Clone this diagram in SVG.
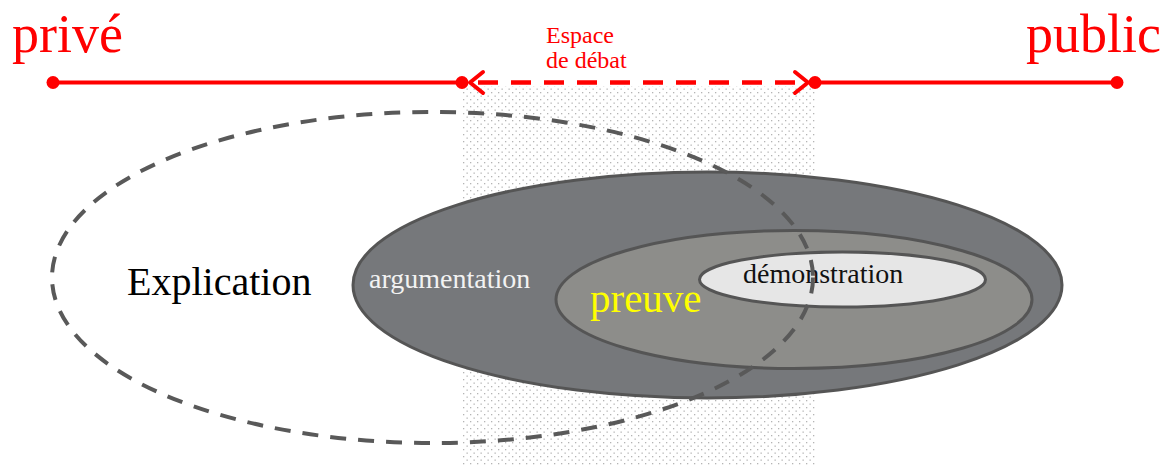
<svg xmlns="http://www.w3.org/2000/svg" width="1168" height="466" viewBox="0 0 1168 466">
<defs>
<pattern id="dots" x="0" y="0" width="7" height="7" patternUnits="userSpaceOnUse">
<rect x="1" y="1" width="1.3" height="1.3" fill="#b4b4b4"/>
<rect x="4.5" y="4.5" width="1.3" height="1.3" fill="#b4b4b4"/>
</pattern>
<style>
.serif{font-family:"Liberation Serif","Times New Roman",serif}
.red{fill:#ff0000}
.set{stroke:#555555;stroke-width:3}
</style>
</defs>
<rect width="1168" height="466" fill="#ffffff"/>
<g id="espace-zone">
<rect x="463" y="86" width="352" height="380" fill="url(#dots)"/>
</g>
<g id="connectors">
<line x1="53" y1="82.5" x2="462" y2="82.5" stroke="#ff0000" stroke-width="4"/>
<line x1="815" y1="82.5" x2="1117" y2="82.5" stroke="#ff0000" stroke-width="4"/>
<line x1="478" y1="82.5" x2="802" y2="82.5" stroke="#ff0000" stroke-width="4.5" stroke-dasharray="20 13"/>
<polyline points="483,72 470,82.5 483,93" fill="none" stroke="#ff0000" stroke-width="4" stroke-linecap="round" stroke-linejoin="round"/>
<polyline points="795,72 808,82.5 795,93" fill="none" stroke="#ff0000" stroke-width="4" stroke-linecap="round" stroke-linejoin="round"/>
<circle cx="53" cy="82.5" r="6.5" fill="#ff0000"/>
<circle cx="462" cy="82.5" r="6.5" fill="#ff0000"/>
<circle cx="815" cy="82.5" r="6.5" fill="#ff0000"/>
<circle cx="1117" cy="82.5" r="6.5" fill="#ff0000"/>
</g>
<g id="prive"><text class="serif red" x="12" y="52" font-size="54">privé</text></g>
<g id="public"><text class="serif red" x="1026" y="52" font-size="54">public</text></g>
<g id="espace-label">
<text class="serif red" x="546" y="43" font-size="24">Espace</text>
<text class="serif red" x="546" y="68" font-size="24">de débat</text>
</g>
<g id="argumentation">
<ellipse class="set" cx="707.5" cy="285" rx="354.5" ry="113" fill="#76787b"/>
<text class="serif" x="369" y="288" font-size="28" fill="#f2f2f2">argumentation</text>
</g>
<g id="preuve">
<ellipse class="set" cx="794" cy="299.5" rx="238" ry="69" fill="#8d8d8a"/>
<text class="serif" x="590" y="312" font-size="41" fill="#ffff00">preuve</text>
</g>
<g id="demonstration">
<ellipse class="set" cx="842.5" cy="279.5" rx="143" ry="27.5" fill="#e6e6e6"/>
<text class="serif" x="743" y="283" font-size="28" fill="#111111">démonstration</text>
</g>
<g id="explication">
<ellipse cx="432.5" cy="277.5" rx="380.5" ry="165.5" fill="none" stroke="#595959" stroke-width="4" stroke-dasharray="16 12"/>
<text class="serif" x="127" y="295" font-size="40" fill="#000000">Explication</text>
</g>
</svg>
